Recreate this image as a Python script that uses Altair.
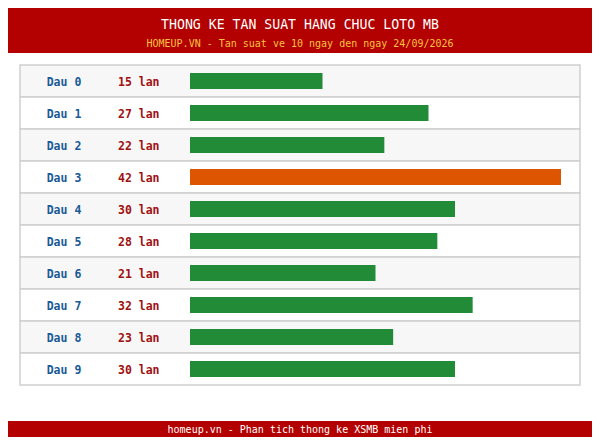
import altair as alt
import pandas as pd

categories = ["Dau 0", "Dau 1", "Dau 2", "Dau 3", "Dau 4", "Dau 5", "Dau 6", "Dau 7", "Dau 8", "Dau 9"]
counts = [15, 27, 22, 42, 30, 28, 21, 32, 23, 30]
row_bg = ["#f7f7f7", "#ffffff"] * 5

title_text = "THONG KE TAN SUAT HANG CHUC LOTO MB"
subtitle_text = "HOMEUP.VN - Tan suat ve 10 ngay den ngay 24/09/2026"
footer_text = "homeup.vn - Phan tich thong ke XSMB mien phi"

FONT = "DejaVu Sans Mono"
maxc = max(counts)
df = pd.DataFrame({
    "cat": categories,
    "count": counts,
    "bg": row_bg,
    "lan": [f"{c} lan" for c in counts],
    "barcolor": ["#dd5500" if c == maxc else "#228b38" for c in counts],
})
one = pd.DataFrame({"k": [0]})

W, H = 584, 429

yscale = alt.Scale(domain=categories, range=[57, 377], paddingInner=0, paddingOuter=0)
xscale = alt.Scale(domain=[0, 42], range=[182, 553])
Y = alt.Y("cat:N", scale=yscale, axis=None, sort=categories)

header = alt.Chart(one).mark_rect(fill="#b30000").encode(
    x=alt.value(-8), x2=alt.value(W), y=alt.value(-8), y2=alt.value(45))
footer = alt.Chart(one).mark_rect(fill="#b30000").encode(
    x=alt.value(-8), x2=alt.value(W), y=alt.value(413), y2=alt.value(H))
title = alt.Chart(one).mark_text(font=FONT, fontSize=13.2, color="#ffffff", align="center", baseline="middle").encode(
    x=alt.value(292), y=alt.value(17), text=alt.value(title_text))
subtitle = alt.Chart(one).mark_text(font=FONT, fontSize=10, color="#f5c242", align="center", baseline="middle").encode(
    x=alt.value(292), y=alt.value(35.5), text=alt.value(subtitle_text))
foot = alt.Chart(one).mark_text(font=FONT, fontSize=10, color="#ffffff", align="center", baseline="middle").encode(
    x=alt.value(292), y=alt.value(422), text=alt.value(footer_text))

rows = alt.Chart(df).mark_rect(stroke="#d0d0d0", strokeWidth=1.5).encode(
    y=Y, x=alt.value(12), x2=alt.value(572), fill=alt.Fill("bg:N", scale=None))
bars = alt.Chart(df).mark_bar(size=16).encode(
    y=Y, x=alt.X("count:Q", scale=xscale, axis=None), color=alt.Color("barcolor:N", scale=None))
lab = alt.Chart(df).mark_text(font=FONT, fontSize=11.5, fontWeight="bold", color="#1a5a96", align="center", baseline="middle", dy=1.5).encode(
    y=Y, x=alt.value(56), text="cat:N")
lan = alt.Chart(df).mark_text(font=FONT, fontSize=11.5, fontWeight="bold", color="#a01010", align="left", baseline="middle", dy=1.5).encode(
    y=Y, x=alt.value(110), text="lan:N")

chart = alt.layer(header, footer, title, subtitle, foot, rows, bars, lab, lan).properties(
    width=W, height=H, autosize=alt.AutoSizeParams(type="none"), padding=0
).configure_view(stroke=None)

chart.save("out.html", embed_options={"renderer": "svg", "actions": False})
